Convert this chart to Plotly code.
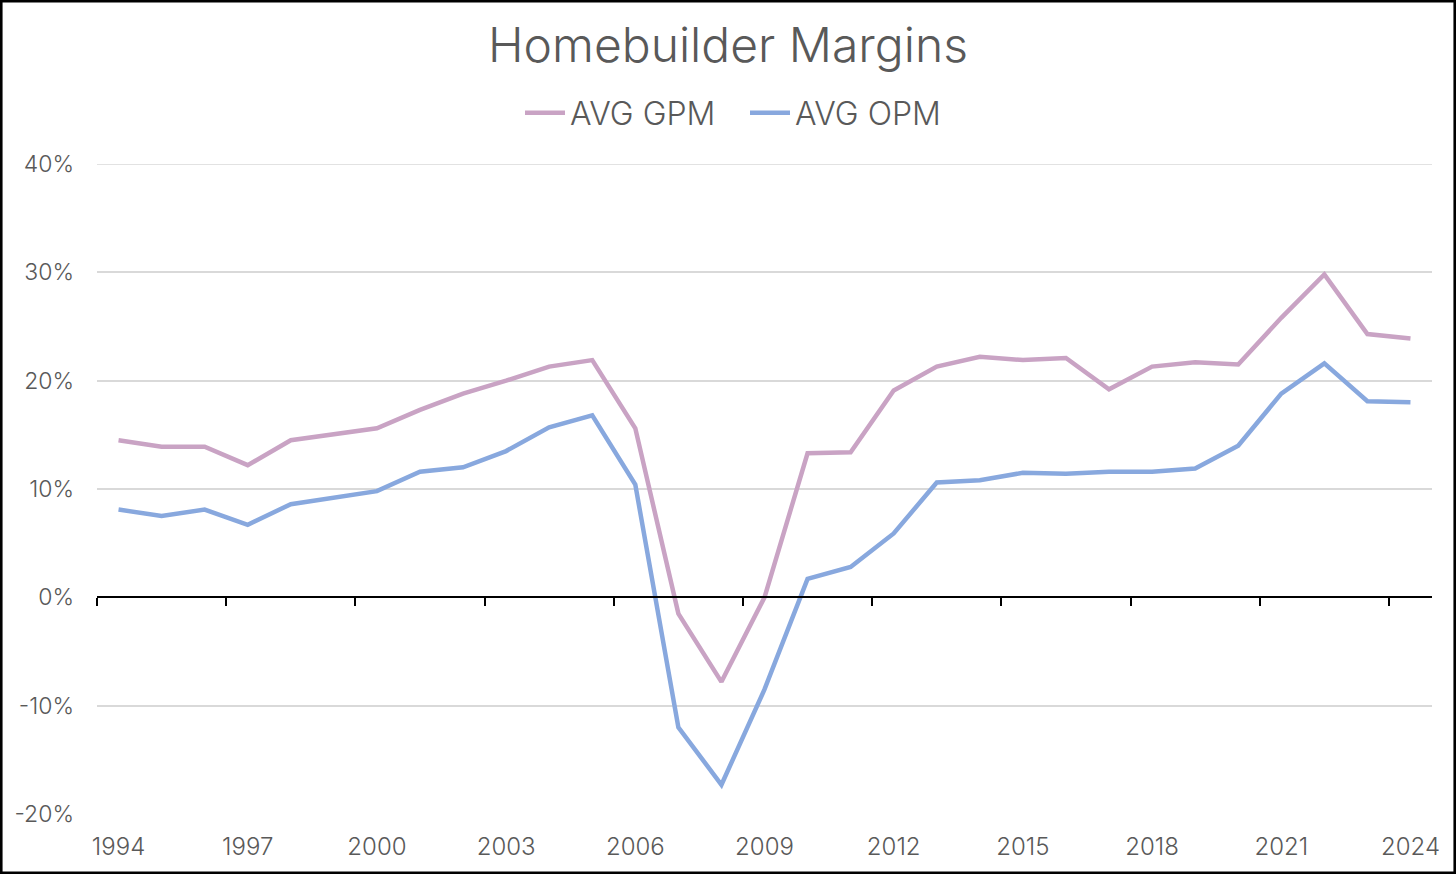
import plotly.graph_objects as go

years = list(range(1994, 2025))
avg_gpm = [14.5, 13.9, 13.9, 12.2, 14.5, 15.1, 15.6, 17.3, 18.8, 20.0, 21.3, 21.9,
           15.6, -1.5, -7.8, 0.0, 13.3, 13.4, 19.1, 21.3, 22.2, 21.9, 22.1, 19.2,
           21.3, 21.7, 21.5, 25.8, 29.8, 24.3, 23.9]
avg_opm = [8.1, 7.5, 8.1, 6.7, 8.6, 9.2, 9.8, 11.6, 12.0, 13.5, 15.7, 16.8,
           10.4, -12.0, -17.3, -8.5, 1.7, 2.8, 5.9, 10.6, 10.8, 11.5, 11.4, 11.6,
           11.6, 11.9, 14.0, 18.8, 21.6, 18.1, 18.0]
x_tick_labels = [str(y) for y in range(1994, 2025, 3)]
y_ticks = [-20, -10, 0, 10, 20, 30, 40]

W, H = 1456, 874
ml, mr, mt, mb = 97, 24, 164, 60
pw, ph = W - ml - mr, H - mt - mb
y_min, y_max = y_ticks[0], y_ticks[-1]

fig = go.Figure()
fig.add_trace(go.Scatter(x=years, y=avg_gpm, name="AVG GPM", mode="lines",
                         line=dict(color="#C9A3C4", width=4.5)))
fig.add_trace(go.Scatter(x=years, y=avg_opm, name="AVG OPM", mode="lines",
                         line=dict(color="#88A8DE", width=4.5)))
# invisible trace to activate the tick axis at zero
fig.add_trace(go.Scatter(x=[years[0]], y=[0], xaxis="x2", mode="markers",
                         marker=dict(opacity=0), showlegend=False, hoverinfo="skip"))

font_family = "Inter, Noto Sans, sans-serif"
txt = "#595959"
fig.update_layout(
    width=W, height=H,
    margin=dict(l=ml, r=mr, t=mt, b=mb),
    paper_bgcolor="white", plot_bgcolor="white",
    font=dict(family=font_family, color=txt, weight=300),
    title=dict(text="Homebuilder Margins", x=0.5, xanchor="center",
               y=1 - 45 / H, yanchor="middle",
               font=dict(size=48, color=txt, family=font_family, weight=300)),
    legend=dict(orientation="h", x=(520 - ml) / pw, xanchor="left",
                y=1 + 51 / ph, yanchor="middle",
                font=dict(size=32, color=txt, weight=300), itemwidth=40,
                entrywidth=170, entrywidthmode="pixels",
                bgcolor="rgba(0,0,0,0)"),
    xaxis=dict(range=[1993.5, 2024.5], tickmode="array",
               tickvals=[int(t) for t in x_tick_labels], ticktext=x_tick_labels,
               showgrid=False, zeroline=False, showline=False, ticks="",
               tickfont=dict(size=24, color=txt, weight=300), ticklabelstandoff=16),
    xaxis2=dict(range=[1993.5, 2024.5], overlaying="x", anchor="free",
                position=(0 - y_min) / (y_max - y_min), side="bottom",
                tickmode="array", tickvals=[y - 0.5 for y in range(1994, 2025, 3)],
                showticklabels=False, ticks="outside", ticklen=8, tickwidth=2,
                tickcolor="black", showline=True, linecolor="black", linewidth=2,
                showgrid=False, zeroline=False),
    yaxis=dict(range=[y_min, y_max], tickmode="array", tickvals=y_ticks,
               ticktext=[f"{v}%" for v in y_ticks],
               showgrid=True, gridcolor="#D9D9D9", gridwidth=1.5,
               zeroline=False, showline=False, ticks="",
               tickfont=dict(size=23, color=txt, weight=300), ticklabelstandoff=22),
    shapes=[
        dict(type="line", xref="paper", yref="y", x0=0, x1=1, y0=y_max, y1=y_max,
             line=dict(color="#D9D9D9", width=1.5), layer="below"),
        dict(type="rect", xref="paper", yref="paper",
             x0=-ml / pw + 0.0008, x1=1 + mr / pw - 0.0008,
             y0=-mb / ph + 0.0015, y1=1 + mt / ph - 0.0015,
             line=dict(color="black", width=3), fillcolor="rgba(0,0,0,0)",
             layer="above"),
    ],
)

fig.write_html("out.html", config={"displayModeBar": False},
               post_script="document.body.style.margin='0';document.body.style.padding='0';")
